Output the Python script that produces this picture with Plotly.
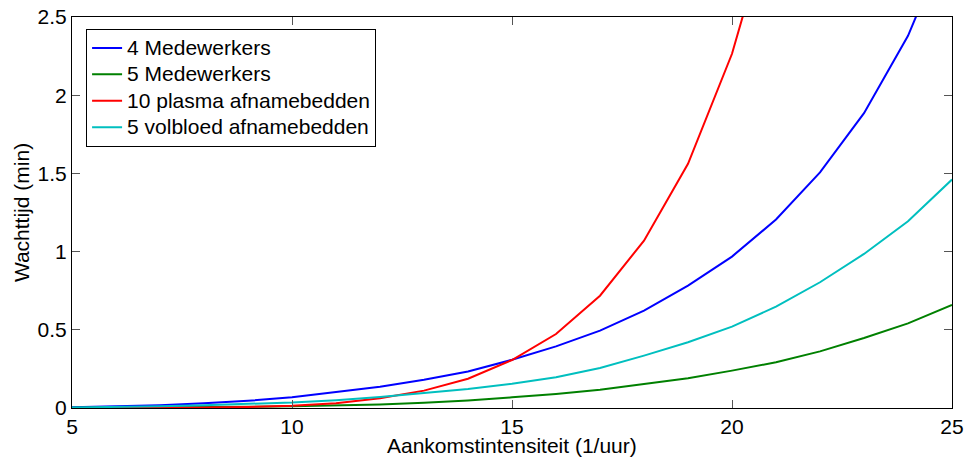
import plotly.graph_objects as go

# Arrival intensity (per hour)
aankomst = list(range(5, 26))

# Mean waiting time (minutes) per configuration
wacht_4_medewerkers = [0.005, 0.010, 0.018, 0.030, 0.046, 0.068, 0.100, 0.136, 0.180, 0.234,
                       0.308, 0.394, 0.495, 0.623, 0.782, 0.968, 1.205, 1.506, 1.885, 2.380, 3.05]
wacht_5_medewerkers = [0.001, 0.002, 0.003, 0.005, 0.008, 0.011, 0.016, 0.023, 0.033, 0.048,
                       0.068, 0.090, 0.117, 0.153, 0.190, 0.239, 0.292, 0.362, 0.448, 0.541, 0.659]
wacht_10_plasma = [0.000, 0.000, 0.001, 0.003, 0.007, 0.015, 0.030, 0.062, 0.111, 0.187,
                   0.307, 0.473, 0.718, 1.070, 1.561, 2.265, 3.24, None, None, None, None]
wacht_5_volbloed = [0.003, 0.006, 0.011, 0.018, 0.026, 0.035, 0.050, 0.070, 0.096, 0.122,
                    0.155, 0.196, 0.256, 0.335, 0.420, 0.520, 0.648, 0.804, 0.985, 1.194, 1.461]

series = [
    ("4 Medewerkers", wacht_4_medewerkers, "#0000ff"),
    ("5 Medewerkers", wacht_5_medewerkers, "#008000"),
    ("10 plasma afnamebedden", wacht_10_plasma, "#ff0000"),
    ("5 volbloed afnamebedden", wacht_5_volbloed, "#00bfbf"),
]

x_ticks = [5, 10, 15, 20, 25]
y_ticks = [0, 0.5, 1, 1.5, 2, 2.5]
y_tick_labels = ["0", "0.5", "1", "1.5", "2", "2.5"]
x_title = "Aankomstintensiteit (1/uur)"
y_title = "Wachttijd (min)"

FONT = "Liberation Sans, Arial, Helvetica, sans-serif"
TEXT_SIZE = 21

fig = go.Figure()
for name, values, color in series:
    fig.add_trace(go.Scatter(
        x=aankomst, y=values, mode="lines",
        # legend rows are spaced by the legend font size; the label itself keeps the full size
        name=f'<span style="font-size:{TEXT_SIZE}px">{name}</span>',
        line=dict(color=color, width=2), connectgaps=False,
    ))

axis_common = dict(
    showline=True, linecolor="black", linewidth=1.2,
    mirror="ticks", ticks="inside", ticklen=8, tickwidth=1, tickcolor="#555555",
    showgrid=False, zeroline=False, automargin=False,
    tickfont=dict(family=FONT, size=TEXT_SIZE, color="black"),
)

fig.update_layout(
    width=968, height=460,
    margin=dict(l=72, r=16, t=17, b=52),
    paper_bgcolor="white", plot_bgcolor="white",
    font=dict(family=FONT, size=TEXT_SIZE, color="black"),
    xaxis=dict(range=[5, 25], tickvals=x_ticks, ticktext=[str(v) for v in x_ticks],
               ticklabelstandoff=0,
               **axis_common),
    yaxis=dict(range=[0, 2.5], tickvals=y_ticks, ticktext=y_tick_labels,
               title=dict(text=y_title, font=dict(size=TEXT_SIZE), standoff=2),
               ticklabelstandoff=0,
               **axis_common),
    legend=dict(
        x=0.016, y=0.97, xanchor="left", yanchor="top",
        bgcolor="white", bordercolor="black", borderwidth=1,
        font=dict(family=FONT, size=18, color="black"),
        tracegroupgap=0, itemwidth=30,
    ),
    showlegend=True,
)

# x-axis title sits tight under the tick labels
fig.add_annotation(
    text=x_title, xref="paper", yref="paper", x=0.5, y=0,
    xanchor="center", yanchor="middle", yshift=-37, showarrow=False,
    font=dict(family=FONT, size=TEXT_SIZE, color="black"),
)

fig.write_html("out.html")
